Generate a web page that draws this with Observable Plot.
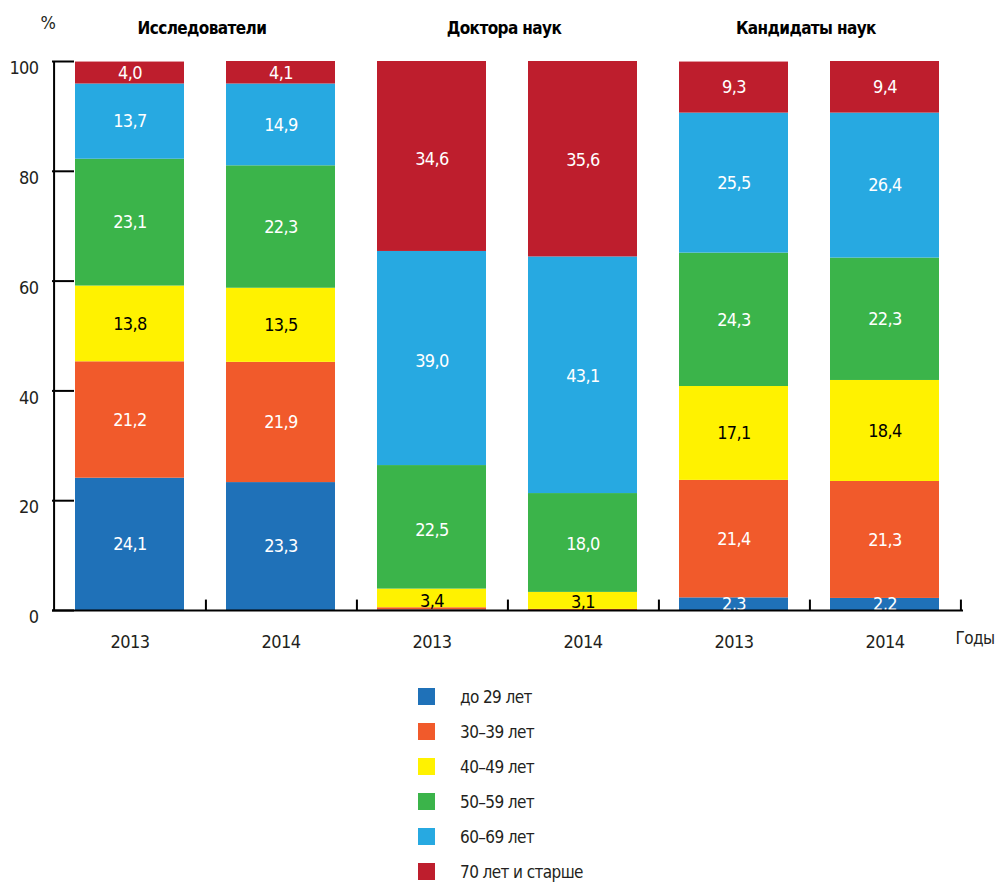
<!DOCTYPE html>
<html>
<head>
<meta charset="utf-8">
<script src="https://cdn.jsdelivr.net/npm/d3@7"></script>
<script src="https://cdn.jsdelivr.net/npm/@observablehq/plot@0.6"></script>
<style>
  body { margin: 0; background: #fff; font-family: "DejaVu Sans Condensed", "Liberation Sans Narrow", sans-serif; font-stretch: condensed; }
  #chart svg { display: block; }
  #chart svg text { letter-spacing: -0.6px; }
  .legend { padding-top: 14px; margin-left: 418px; }
  .legend .row { height: 35px; display: flex; align-items: center; font-size: 17px; letter-spacing: -0.6px; color: #231f20; }
  .legend .sw { width: 17px; height: 17px; margin-right: 25px; }
</style>
</head>
<body>
<div id="chart"></div>
<script>
// ---- data ----
const groups = ["Исследователи", "Доктора наук", "Кандидаты наук"];
const years = ["2013", "2014"];
const ages = ["до 29 лет", "30–39 лет", "40–49 лет", "50–59 лет", "60–69 лет", "70 лет и старше"];
const colors = ["#1f71b8", "#f15a2b", "#fff200", "#3bb44a", "#27a9e1", "#be1e2d"];
// values per bar, in age order (до 29 … 70+)
const researchers2013 = [24.1, 21.2, 13.8, 23.1, 13.7, 4.0];
const researchers2014 = [23.3, 21.9, 13.5, 22.3, 14.9, 4.1];
const doctors2013 = [0.1, 0.4, 3.4, 22.5, 39.0, 34.6];
const doctors2014 = [0.0, 0.2, 3.1, 18.0, 43.1, 35.6];
const candidates2013 = [2.3, 21.4, 17.1, 24.3, 25.5, 9.3];
const candidates2014 = [2.2, 21.3, 18.4, 22.3, 26.4, 9.4];
const yTicks = [0, 20, 40, 60, 80, 100];

const series = [
  [groups[0], years[0], researchers2013],
  [groups[0], years[1], researchers2014],
  [groups[1], years[0], doctors2013],
  [groups[1], years[1], doctors2014],
  [groups[2], years[0], candidates2013],
  [groups[2], years[1], candidates2014]
];
const keys = series.map(([g, y]) => g + "|" + y);
const data = [];
series.forEach(([g, y, vals]) => vals.forEach((v, i) => data.push({key: g + "|" + y, group: g, year: y, age: ages[i], value: v})));

const W = 995, H = 665, mL = 52, mR = 32, mT = 61, mB = 55;
const step = (W - mL - mR) / keys.length;
const font = '"DejaVu Sans Condensed", "Liberation Sans Narrow", sans-serif';
const fmt = v => v.toFixed(1).replace(".", ",");

const chart = Plot.plot({
  width: W, height: H,
  marginLeft: mL, marginRight: mR, marginTop: mT, marginBottom: mB,
  style: {fontFamily: font, fontSize: "17px", color: "#231f20", background: "#fff"},
  x: {type: "band", domain: keys, paddingInner: 0.275, paddingOuter: 0.1375, axis: null, label: null},
  y: {domain: [0, 100], axis: null, label: null},
  color: {domain: ages, range: colors},
  marks: [
    Plot.barY(data, {x: "key", y: "value", fill: "age", order: ages}),
    Plot.text(data.filter(d => d.value >= 1), Plot.stackY({
      x: "key", y: "value", z: "age", order: ages,
      text: d => fmt(d.value),
      fill: d => d.age === ages[2] ? "#000" : "#fff",
      fontSize: 18
    })),
    // y axis line and inward ticks
    Plot.ruleX([keys[0]], {x: d => d, dx: -step / 2, y1: 0, y2: 100, stroke: "#000", strokeWidth: 2}),
    Plot.ruleY(yTicks, {y: d => d, stroke: "#000", strokeWidth: 2, insetRight: W - mL - mR - 22}),
    Plot.ruleY([0], {stroke: "#000", strokeWidth: 2}),
    // x separators
    Plot.ruleX(keys, {x: d => d, dx: step / 2, y1: 0, y2: 1.9, stroke: "#000", strokeWidth: 2}),
    Plot.axisY({ticks: yTicks, tickSize: 0, tickPadding: 14, dy: 7, fontSize: 18, label: null, tickFormat: d => d}),
    Plot.axisX({tickSize: 0, tickPadding: 25, fontSize: 18, label: null, tickFormat: k => k.split("|")[1]}),
    Plot.text(groups, {x: (g) => g + "|" + years[0], dx: step / 2 - 4, frameAnchor: "top", dy: -40, text: d => d, fontWeight: "bold", fontSize: 17, fill: "#000"}),
    Plot.text(["%"], {frameAnchor: "top-left", dx: -12, dy: -45, text: d => d, fontSize: 18}),
    Plot.text(["Годы"], {frameAnchor: "bottom-right", dx: -8, dy: 33, textAnchor: "start", text: d => d, fontSize: 17})
  ]
});
document.getElementById("chart").appendChild(chart);

const legend = document.createElement("div");
legend.className = "legend";
ages.forEach((a, i) => {
  const row = document.createElement("div");
  row.className = "row";
  const sw = document.createElement("span");
  sw.className = "sw";
  sw.style.background = colors[i];
  const lab = document.createElement("span");
  lab.textContent = a;
  row.append(sw, lab);
  legend.appendChild(row);
});
document.body.appendChild(legend);
</script>
</body>
</html>
